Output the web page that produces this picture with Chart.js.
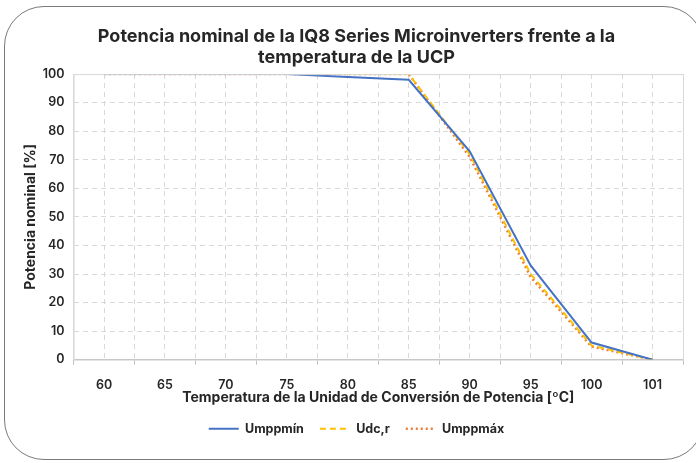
<!DOCTYPE html>
<html>
<head>
<meta charset="utf-8">
<script src="https://cdn.jsdelivr.net/npm/chart.js@4/dist/chart.umd.min.js"></script>
<style>
  html, body { margin: 0; padding: 0; background: #fff; }
  #wrap { position: relative; width: 696px; height: 463px; overflow: hidden; }
  #frame {
    position: absolute; left: 4px; top: 6px; width: 700px; height: 454px;
    border: 1.5px solid #7a7a7a; border-radius: 40px; box-sizing: border-box;
  }
  #box { position: absolute; left: 0; top: 0; width: 696px; height: 463px; }
</style>
</head>
<body>
<div id="wrap">
  <div id="frame"></div>
  <div id="box"><canvas id="chart"></canvas></div>
</div>
<script>
// temperature categories (ºC)
const temps = ["60", "65", "70", "75", "80", "85", "90", "95", "100", "101"];
// nominal power [%]
const umppMin = [100, 100, 100, 100, 99, 98, 73, 33, 6, 0];
const udcR = [100, 100, 100, 100, 100, 100, 72, 30, 5, 0];
const umppMax = [100, 100, 100, 100, 100, 100, 71, 29, 4.6, 0];
const yTicks = [0, 10, 20, 30, 40, 50, 60, 70, 80, 90, 100];

const FONT = "Inter, 'Open Sans', sans-serif";
const gridColor = "#d9d9d9";

// light frame around the plot area
const plotFrame = {
  id: "plotFrame",
  afterDatasetsDraw(chart) {
    const a = chart.chartArea;
    const ctx = chart.ctx;
    ctx.save();
    ctx.strokeStyle = "#d9d9d9";
    ctx.lineWidth = 1;
    ctx.strokeRect(a.left + 0.5, a.top + 0.5, a.right - a.left, a.bottom - a.top);
    ctx.restore();
  },
};

const ctx = document.getElementById("chart").getContext("2d");
new Chart(ctx, {
  type: "line",
  data: {
    labels: temps,
    datasets: [
      {
        label: "Umppmín",
        data: umppMin,
        borderColor: "#4472C4",
        borderWidth: 2,
        pointRadius: 0,
        fill: false,
      },
      {
        label: "Udc,r",
        data: udcR,
        borderColor: "#FFC000",
        borderWidth: 2,
        borderDash: [6, 4],
        pointRadius: 0,
        fill: false,
      },
      {
        label: "Umppmáx",
        data: umppMax,
        borderColor: "#ED7D31",
        borderWidth: 2.5,
        borderDash: [2, 3],
        pointRadius: 0,
        fill: false,
      },
    ],
  },
  options: {
    responsive: true,
    maintainAspectRatio: false,
    animation: false,
    layout: { padding: { left: 30, right: 13, top: 12, bottom: 18 } },
    plugins: {
      title: {
        display: true,
        text: [
          "Potencia nominal de la IQ8 Series Microinverters frente a la",
          "temperatura de la UCP",
        ],
        color: "#262626",
        font: { family: FONT, size: 18, weight: "700", lineHeight: 1.17 },
        padding: { top: 14, bottom: 6 },
      },
      legend: {
        position: "bottom",
        labels: {
          usePointStyle: true,
          pointStyle: "line",
          pointStyleWidth: 30,
          boxHeight: 10,
          color: "#262626",
          padding: 16,
          font: { family: FONT, size: 12.5, weight: "700" },
          generateLabels(chart) {
            const items = Chart.defaults.plugins.legend.labels.generateLabels(chart);
            items.forEach((it) => {
              const ds = chart.data.datasets[it.datasetIndex];
              it.lineDash = ds.borderDash || [];
              it.lineWidth = ds.borderWidth;
              it.strokeStyle = ds.borderColor;
            });
            return items;
          },
        },
      },
      tooltip: { enabled: false },
    },
    scales: {
      x: {
        offset: true,
        grid: {
          offset: true,
          color: gridColor,
          tickColor: "#bfbfbf",
          tickLength: 5,
        },
        border: { color: "#bfbfbf", dash: [5, 4] },
        ticks: {
          color: "#262626",
          font: { family: FONT, size: 12.5, weight: "600" },
          padding: 13,
          maxRotation: 0,
        },
        title: {
          display: true,
          text: "Temperatura de la Unidad de Conversión de Potencia [ºC]",
          color: "#262626",
          font: { family: FONT, size: 14, weight: "700" },
          padding: { top: -16, bottom: 0 },
        },
      },
      xc: {
        type: "category",
        labels: temps,
        position: "top",
        offset: true,
        grid: { offset: false, color: gridColor, drawTicks: false },
        border: { display: false, dash: [5, 4] },
        ticks: { display: false },
      },
      y: {
        min: 0,
        max: 100,
        afterBuildTicks(scale) {
          scale.ticks = yTicks.map((v) => ({ value: v }));
        },
        grid: { color: gridColor, drawTicks: false },
        border: { display: true, color: "#d9d9d9", dash: [5, 4] },
        ticks: {
          color: "#262626",
          font: { family: FONT, size: 12.5, weight: "600" },
          padding: 9,
        },
        title: {
          display: true,
          text: "Potencia nominal [%]",
          color: "#262626",
          font: { family: FONT, size: 14, weight: "700" },
          padding: { top: -8, bottom: -5 },
        },
      },
    },
  },
  plugins: [plotFrame],
});
</script>
</body>
</html>
